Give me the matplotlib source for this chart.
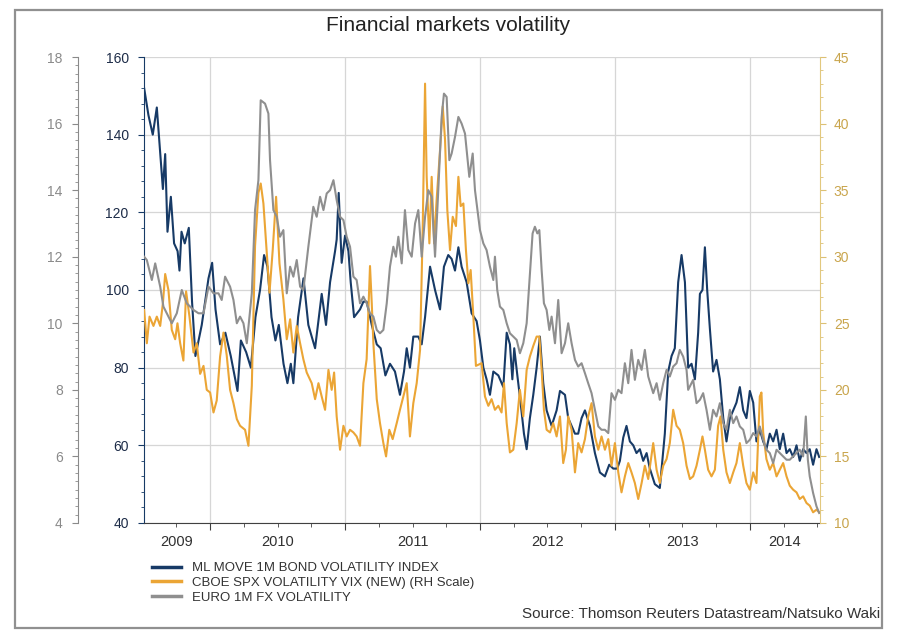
import matplotlib.pyplot as plt
from matplotlib.patches import Rectangle
from matplotlib.ticker import MultipleLocator, FixedLocator, NullFormatter

plt.rcParams['font.family'] = ['Liberation Sans', 'DejaVu Sans']

# ML MOVE 1M bond volatility index (inner left scale), x in decimal years
move_year = [2009.511, 2009.543, 2009.575, 2009.605, 2009.635, 2009.650, 2009.667, 2009.684, 2009.709, 2009.733,
             2009.759, 2009.773, 2009.788, 2009.812, 2009.842, 2009.866, 2009.891, 2009.938, 2009.988, 2010.015,
             2010.040, 2010.074, 2010.113, 2010.153, 2010.203, 2010.228, 2010.267, 2010.302, 2010.336, 2010.370,
             2010.400, 2010.425, 2010.455, 2010.484, 2010.509, 2010.544, 2010.573, 2010.598, 2010.617, 2010.652,
             2010.692, 2010.728,
             2010.778, 2010.827, 2010.859, 2010.889, 2010.926, 2010.938, 2010.953, 2010.975, 2011.000, 2011.025,
             2011.042, 2011.067, 2011.111, 2011.136, 2011.160, 2011.198, 2011.235, 2011.264, 2011.299, 2011.333,
             2011.370, 2011.407, 2011.437, 2011.457, 2011.481, 2011.506, 2011.543, 2011.568, 2011.593, 2011.630,
             2011.667, 2011.704, 2011.733, 2011.765, 2011.790, 2011.815, 2011.840, 2011.864, 2011.901, 2011.938,
             2011.975,
             2012.000, 2012.025, 2012.049, 2012.074, 2012.099, 2012.136, 2012.173, 2012.198, 2012.222, 2012.240,
             2012.254, 2012.277, 2012.301, 2012.326, 2012.346, 2012.370, 2012.395, 2012.420, 2012.444, 2012.469,
             2012.494, 2012.531, 2012.568, 2012.593, 2012.630, 2012.654, 2012.679, 2012.704, 2012.728, 2012.753,
             2012.778, 2012.815, 2012.852, 2012.889, 2012.926, 2012.958, 2012.988, 2013.017, 2013.037, 2013.062,
             2013.086, 2013.111, 2013.136, 2013.160, 2013.185, 2013.210, 2013.235,
             2013.259, 2013.296, 2013.333, 2013.370, 2013.395, 2013.420, 2013.444, 2013.469, 2013.494, 2013.519,
             2013.543, 2013.568, 2013.593, 2013.617, 2013.630, 2013.649, 2013.667, 2013.684, 2013.704, 2013.728,
             2013.753, 2013.778, 2013.803, 2013.827, 2013.852, 2013.877, 2013.901, 2013.926, 2013.951, 2013.975,
             2014.000, 2014.025, 2014.049, 2014.074, 2014.099, 2014.123, 2014.148, 2014.173, 2014.198, 2014.222,
             2014.247, 2014.272, 2014.296, 2014.321, 2014.346, 2014.370, 2014.395, 2014.420, 2014.444, 2014.469,
             2014.494, 2014.514]
move_val = [152, 145, 140, 147, 133, 126, 135, 115, 124, 112,
            110, 105, 115, 112, 116, 97, 83, 91, 103, 107,
            95, 86, 89, 83, 74, 87, 84, 80, 93, 100,
            109, 106, 93, 87, 91, 81, 76, 81, 76, 93,
            103, 91,
            85, 99, 91, 102, 110, 113, 125, 107, 114, 110,
            102, 93, 95, 97, 97, 91, 86, 85, 78, 81,
            79, 73, 79, 85, 80, 88, 88, 86, 93, 106,
            100, 95, 106, 109, 108, 105, 111, 106, 102, 94,
            92,
            87, 80, 77, 73, 79, 78, 75, 89, 86, 77,
            85, 78, 71, 63, 59, 67, 73, 80, 88, 76,
            69, 65, 69, 74, 73, 67, 65, 63, 63, 67,
            69, 65, 58, 53, 52, 55, 54, 54, 56, 62,
            65, 61, 60, 58, 59, 56, 58,
            54, 50, 49, 63, 79, 83, 85, 102, 109, 102,
            80, 81, 77, 89, 99, 100, 111, 100, 90, 79,
            82, 77, 67, 61, 67, 69, 71, 75, 69, 67,
            74, 71, 61, 64, 61, 59, 63, 61, 64, 59,
            63, 58, 59, 57, 60, 56, 59, 58, 59, 55,
            59, 57]

# CBOE SPX volatility VIX (right scale)
vix_year = [2009.511, 2009.531, 2009.551, 2009.580, 2009.605, 2009.630, 2009.650, 2009.667, 2009.691, 2009.716,
            2009.741, 2009.758, 2009.778, 2009.802, 2009.822, 2009.847, 2009.877, 2009.901, 2009.926, 2009.951,
            2009.975, 2010.000, 2010.025, 2010.049, 2010.074, 2010.099, 2010.123, 2010.148, 2010.173, 2010.198,
            2010.222, 2010.259, 2010.284, 2010.309, 2010.333, 2010.358, 2010.375, 2010.395, 2010.420, 2010.440,
            2010.464, 2010.489, 2010.514, 2010.543, 2010.568, 2010.593, 2010.617, 2010.642, 2010.667, 2010.691,
            2010.716,
            2010.753, 2010.778, 2010.803, 2010.827, 2010.852, 2010.877, 2010.901, 2010.919, 2010.938, 2010.963,
            2010.988, 2011.012, 2011.037, 2011.062, 2011.086, 2011.111, 2011.136, 2011.160, 2011.185, 2011.198,
            2011.210, 2011.235, 2011.259, 2011.284, 2011.304, 2011.328, 2011.353, 2011.383, 2011.407, 2011.432,
            2011.457, 2011.481, 2011.506, 2011.531, 2011.556, 2011.575, 2011.593, 2011.605, 2011.625, 2011.642,
            2011.660, 2011.679, 2011.704, 2011.724, 2011.741, 2011.758, 2011.778, 2011.798, 2011.822, 2011.840,
            2011.857, 2011.877, 2011.896, 2011.914, 2011.931, 2011.951, 2011.970,
            2012.012, 2012.037, 2012.062, 2012.086, 2012.111, 2012.136, 2012.160, 2012.178, 2012.198, 2012.222,
            2012.247, 2012.272, 2012.296, 2012.321, 2012.346, 2012.370, 2012.395, 2012.420, 2012.440, 2012.457,
            2012.474, 2012.494, 2012.519, 2012.543, 2012.568, 2012.593, 2012.617, 2012.637, 2012.654, 2012.679,
            2012.704, 2012.728, 2012.753, 2012.778, 2012.802, 2012.827, 2012.852, 2012.877, 2012.901, 2012.926,
            2012.951, 2012.975, 2013.000, 2013.025, 2013.049, 2013.074, 2013.099, 2013.123, 2013.148, 2013.173,
            2013.198, 2013.222, 2013.247,
            2013.284, 2013.309, 2013.333, 2013.358, 2013.383, 2013.407, 2013.432, 2013.457, 2013.481, 2013.506,
            2013.531, 2013.556, 2013.580, 2013.605, 2013.630, 2013.649, 2013.667, 2013.691, 2013.716, 2013.741,
            2013.765, 2013.783, 2013.803, 2013.827, 2013.852, 2013.877, 2013.901, 2013.926, 2013.951, 2013.975,
            2014.000, 2014.025, 2014.049, 2014.074, 2014.086, 2014.099, 2014.123, 2014.148, 2014.173, 2014.198,
            2014.222, 2014.247, 2014.272, 2014.296, 2014.321, 2014.346, 2014.370, 2014.395, 2014.420, 2014.444,
            2014.469, 2014.494, 2014.514]
vix_val = [26.0, 23.5, 25.5, 24.8, 25.5, 24.8, 26.5, 28.7, 27.5, 24.5,
           23.8, 25.0, 23.5, 22.2, 27.4, 25.5, 22.8, 23.5, 21.2, 21.8,
           20.0, 19.8, 18.3, 19.2, 22.5, 24.3, 22.6, 20.0, 19.0, 17.8,
           17.3, 17.0, 15.8, 20.3, 30.8, 34.8, 35.5, 34.0, 30.3, 27.3,
           30.5, 34.5, 29.5, 26.8, 23.8, 25.3, 22.8, 24.8, 23.5, 22.3,
           21.3,
           20.5, 19.3, 20.5, 19.5, 18.5, 21.5, 20.0, 21.3, 18.0, 15.5,
           17.3, 16.5, 17.0, 16.8, 16.5, 15.8, 20.5, 22.3, 29.3, 26.5,
           23.5, 19.3, 17.5, 16.0, 15.0, 17.0, 16.3, 17.5, 18.5, 19.5,
           20.5, 16.5, 19.0, 20.5, 23.0, 31.8, 43.0, 36.0, 31.0, 36.0,
           31.0, 34.3, 38.0, 41.3, 38.8, 33.5, 30.5, 33.0, 32.3, 36.0,
           33.8, 34.0, 30.5, 28.0, 29.0, 25.5, 21.8,
           22.0, 19.5, 18.8, 19.3, 18.5, 18.8, 18.3, 20.5, 17.5, 15.3,
           15.5, 17.5, 20.0, 18.0, 21.5, 22.5, 23.3, 24.0, 24.0, 21.5,
           18.5, 17.0, 16.8, 17.5, 16.5, 18.0, 14.5, 15.5, 18.0, 17.0,
           13.8, 16.0, 15.3, 16.3, 18.0, 19.0, 16.5, 15.5, 16.5, 15.5,
           16.3, 14.3, 16.0, 13.8, 12.3, 13.5, 14.5, 13.8, 13.0, 11.8,
           13.0, 14.3, 13.3,
           16.0, 14.0, 13.0, 14.3, 14.8, 16.0, 18.5, 17.3, 17.0, 16.0,
           14.3, 13.3, 13.5, 14.3, 15.5, 16.5, 15.5, 14.0, 13.5, 14.0,
           17.3, 18.0, 15.5, 13.8, 13.0, 13.8, 14.5, 16.0, 14.3, 13.0,
           12.5, 13.8, 13.0, 19.5, 19.8, 16.8, 14.8, 14.0, 14.5, 13.5,
           14.0, 14.5, 13.5, 12.8, 12.5, 12.3, 11.8, 12.0, 11.5, 11.3,
           10.8, 11.0, 10.8]

# EURO 1M FX volatility (outer left scale)
fx_year = [2009.511, 2009.531, 2009.568, 2009.593, 2009.630, 2009.654, 2009.679, 2009.716, 2009.753, 2009.790,
           2009.827, 2009.877, 2009.914, 2009.951, 2009.988, 2010.025, 2010.062, 2010.086, 2010.111, 2010.148,
           2010.173, 2010.198, 2010.222, 2010.247, 2010.272, 2010.309, 2010.333, 2010.358, 2010.375, 2010.407,
           2010.432, 2010.444, 2010.469, 2010.494, 2010.518, 2010.543, 2010.568, 2010.593, 2010.617, 2010.642,
           2010.667, 2010.691, 2010.728,
           2010.765, 2010.790, 2010.815, 2010.840, 2010.864, 2010.889, 2010.914, 2010.938, 2010.963, 2010.988,
           2011.012, 2011.037, 2011.062, 2011.086, 2011.111, 2011.136, 2011.160, 2011.185, 2011.210, 2011.235,
           2011.259, 2011.284, 2011.309, 2011.333, 2011.358, 2011.377, 2011.395, 2011.420, 2011.444, 2011.469,
           2011.494, 2011.519, 2011.543, 2011.568, 2011.593, 2011.617, 2011.642, 2011.667, 2011.691, 2011.716,
           2011.733, 2011.753, 2011.773, 2011.790, 2011.815, 2011.840, 2011.864, 2011.889, 2011.921, 2011.946,
           2011.963,
           2012.000, 2012.025, 2012.049, 2012.074, 2012.099, 2012.111, 2012.128, 2012.148, 2012.173, 2012.198,
           2012.222, 2012.247, 2012.272, 2012.296, 2012.321, 2012.346, 2012.370, 2012.390, 2012.407, 2012.425,
           2012.440, 2012.457, 2012.474, 2012.494, 2012.514, 2012.531, 2012.556, 2012.580, 2012.605, 2012.630,
           2012.654, 2012.679, 2012.704, 2012.728, 2012.753, 2012.778, 2012.802, 2012.827, 2012.852, 2012.877,
           2012.901, 2012.926, 2012.951, 2012.975, 2013.000, 2013.025, 2013.049, 2013.074, 2013.099, 2013.123,
           2013.148, 2013.173, 2013.198, 2013.222, 2013.247,
           2013.284, 2013.309, 2013.333, 2013.358, 2013.383, 2013.407, 2013.432, 2013.457, 2013.481, 2013.506,
           2013.531, 2013.543, 2013.568, 2013.580, 2013.605, 2013.630, 2013.654, 2013.679, 2013.704, 2013.728,
           2013.753, 2013.778, 2013.803, 2013.827, 2013.852, 2013.877, 2013.901, 2013.926, 2013.951, 2013.975,
           2014.000, 2014.025, 2014.049, 2014.074, 2014.099, 2014.123, 2014.148, 2014.173, 2014.198, 2014.222,
           2014.247, 2014.272, 2014.296, 2014.321, 2014.346, 2014.370, 2014.395, 2014.415, 2014.430, 2014.444,
           2014.469, 2014.494, 2014.514]
fx_val = [12.0, 11.9, 11.3, 11.8, 11.1, 10.5, 10.3, 10.0, 10.3, 11.0,
          10.6, 10.4, 10.3, 10.3, 11.1, 10.9, 10.9, 10.7, 11.4, 11.1,
          10.7, 10.0, 10.2, 10.0, 9.4, 10.9, 13.4, 14.3, 16.7, 16.6,
          16.3, 14.9, 13.4, 13.2, 12.6, 12.8, 10.9, 11.7, 11.4, 11.9,
          11.1, 11.0, 12.3,
          13.5, 13.2, 13.8, 13.4, 13.9, 14.0, 14.3, 13.7, 13.2, 13.1,
          12.6, 12.3, 11.4, 11.3, 10.6, 10.8, 10.6, 10.3, 10.2, 9.8,
          9.7, 9.8, 10.6, 11.7, 12.3, 12.0, 12.6, 11.8, 13.4, 12.2,
          12.0, 13.0, 13.4, 12.0, 13.2, 14.0, 13.8, 12.0, 14.0, 16.2,
          16.9, 16.8, 14.9, 15.1, 15.6, 16.2, 16.0, 15.7, 14.4, 15.1,
          14.0,
          12.8, 12.4, 12.2, 11.7, 11.3, 12.0, 11.0, 10.5, 10.4, 10.0,
          9.7, 9.6, 9.5, 9.1, 9.4, 10.0, 11.5, 12.7, 12.9, 12.7,
          12.8, 11.6, 10.6, 10.4, 9.8, 10.2, 9.4, 10.7, 9.1, 9.4,
          10.0, 9.4, 8.9, 8.7, 8.8, 8.5, 8.2, 7.9, 7.4, 6.9,
          6.8, 6.8, 6.7, 7.9, 7.7, 8.0, 7.9, 8.8, 8.2, 9.2,
          8.3, 8.9, 8.6, 9.2, 8.4,
          7.9, 8.2, 7.7, 8.2, 8.6, 8.4, 8.7, 8.8, 9.2, 9.0,
          8.6, 8.0, 8.2, 8.3, 7.6, 7.7, 7.9, 7.4, 6.8, 7.4,
          7.2, 7.6, 7.0, 6.8, 7.4, 7.0, 7.2, 6.9, 6.8, 6.4,
          6.5, 6.7, 6.6, 6.9, 6.5, 6.2, 6.1, 5.8, 6.2, 6.1,
          6.0, 5.9, 5.9, 6.0, 6.1, 6.2, 6.0, 7.2, 5.9, 5.4,
          4.9, 4.5, 4.3]

labels = ['ML MOVE 1M BOND VOLATILITY INDEX',
          'CBOE SPX VOLATILITY VIX (NEW) (RH Scale)',
          'EURO 1M FX VOLATILITY']
years = [2009, 2010, 2011, 2012, 2013, 2014]
x_start, x_end = 2009.51, 2014.52

navy = '#173a66'
gold = '#eba535'
grey = '#8f8f8f'

fig = plt.figure(figsize=(9, 6.42), dpi=100)
ax = fig.add_axes([0.16, 0.1854, 0.7511, 0.7258])
ax_vix = ax.twinx()
ax_fx = ax.twinx()

l1, = ax.plot(move_year, move_val, color=navy, lw=1.5)
l2, = ax_vix.plot(vix_year, vix_val, color=gold, lw=1.5)
l3, = ax_fx.plot(fx_year, fx_val, color=grey, lw=1.5)

ax.set_xlim(x_start, x_end)
ax.set_ylim(40, 160)
ax_vix.set_ylim(10, 45)
ax_fx.set_ylim(4, 18)

# x axis: year boundaries + quarters
ax.xaxis.set_major_locator(FixedLocator(years[1:]))
ax.xaxis.set_minor_locator(MultipleLocator(0.25))
ax.xaxis.set_major_formatter(NullFormatter())
ax.tick_params(axis='x', which='major', direction='out', length=5, color='#404040')
ax.tick_params(axis='x', which='minor', direction='out', length=3, color='#404040')
for y in years:
    lo, hi = max(y, x_start), min(y + 1, x_end)
    ax.text((lo + hi) / 2, -0.041, str(y), transform=ax.get_xaxis_transform(),
            ha='center', va='center', fontsize=10.5, color='#303030')

ax.grid(True, color='#d6d6d6', lw=0.9)
ax.set_axisbelow(True)

# MOVE axis (inner left)
ax.yaxis.set_major_locator(MultipleLocator(20))
ax.yaxis.set_minor_locator(MultipleLocator(4))
ax.tick_params(axis='y', which='major', direction='out', length=4, color=navy,
               labelcolor='#1d2c48', labelsize=10, pad=7)
ax.tick_params(axis='y', which='minor', direction='out', length=2, color=navy)
ax.spines['top'].set_visible(False)
ax.spines['right'].set_visible(False)
ax.spines['left'].set_color(navy)
ax.spines['bottom'].set_color('#404040')

# VIX axis (right)
ax_vix.yaxis.set_major_locator(MultipleLocator(5))
ax_vix.yaxis.set_minor_locator(MultipleLocator(1))
ax_vix.tick_params(axis='y', which='major', direction='out', length=4, color='#dcc074',
                   labelcolor='#c9a54c', labelsize=10, pad=6)
ax_vix.tick_params(axis='y', which='minor', direction='out', length=2, color='#dcc074')
for s in ['top', 'left', 'bottom']:
    ax_vix.spines[s].set_visible(False)
ax_vix.spines['right'].set_color('#e2c87e')

# EURO FX axis (outer left)
ax_fx.yaxis.set_ticks_position('left')
ax_fx.yaxis.set_label_position('left')
ax_fx.spines['left'].set_position(('outward', 47.5))
ax_fx.yaxis.set_major_locator(MultipleLocator(2))
ax_fx.yaxis.set_minor_locator(MultipleLocator(0.25))
ax_fx.tick_params(axis='y', which='major', direction='out', length=4, color='#8a8a8a',
                  labelcolor='#8a8a8a', labelsize=10, pad=7)
ax_fx.tick_params(axis='y', which='minor', direction='out', length=2, color='#8a8a8a')
for s in ['top', 'right', 'bottom']:
    ax_fx.spines[s].set_visible(False)
ax_fx.spines['left'].set_color('#8a8a8a')

fig.text(0.498, 0.961, 'Financial markets volatility', ha='center', va='center',
         fontsize=15, color='#222222')

leg = fig.legend([l1, l2, l3], labels, loc='upper left', bbox_to_anchor=(152 / 900, 1 - 562 / 642),
                 frameon=False, fontsize=9.5, handlelength=2.2, handletextpad=0.8,
                 labelspacing=0.2, borderpad=0, borderaxespad=0)
for t in leg.get_texts():
    t.set_color('#333333')
for ln in leg.get_lines():
    ln.set_linewidth(2.5)

fig.text(880 / 900, 1 - 614 / 642, 'Source: Thomson Reuters Datastream/Natsuko Waki',
         ha='right', va='center', fontsize=11, color='#333333')

fig.add_artist(Rectangle((15 / 900, 1 - 628 / 642), 867 / 900, 618 / 642, transform=fig.transFigure,
                         fill=False, ec='#909090', lw=1.6))

fig.savefig('out.png', dpi=100)
